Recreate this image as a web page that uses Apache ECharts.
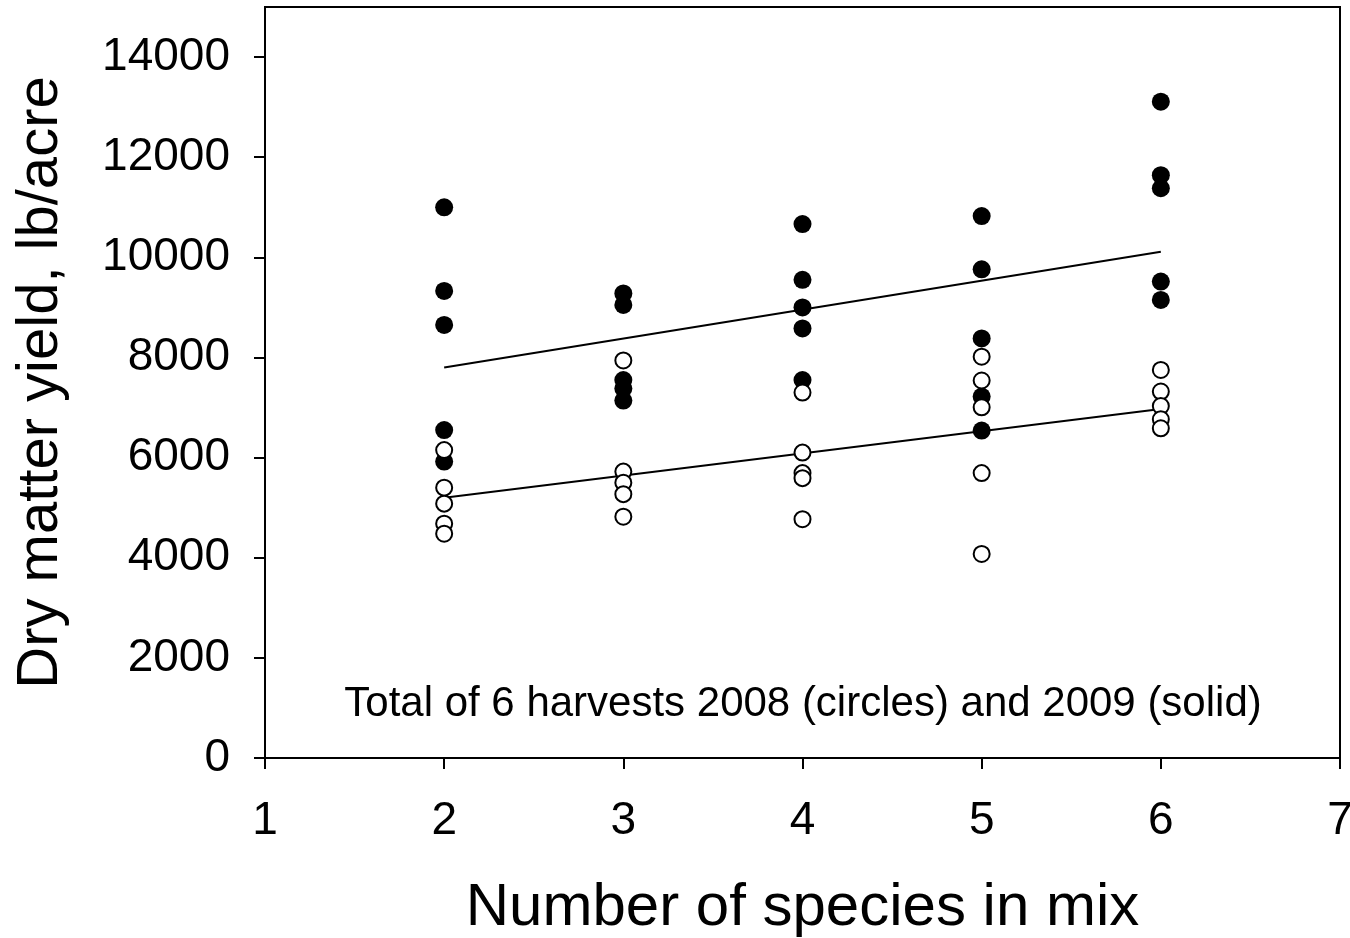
<!DOCTYPE html>
<html>
<head>
<meta charset="utf-8">
<script src="https://cdn.jsdelivr.net/npm/echarts@6/dist/echarts.min.js"></script>
<style>
  html, body { margin: 0; padding: 0; background: #fff; }
  #chart { width: 1350px; height: 938px; }
</style>
</head>
<body>
<div id="chart"></div>
<script>
// number of species per point
var species = [2, 3, 4, 5, 6];

// 2009 (solid) yields, lb/acre, five plots per species level
var solid2 = [11000, 9330, 8650, 6550, 5920];
var solid3 = [9280, 9050, 7550, 7380, 7140];
var solid4 = [10665, 9550, 9000, 8580, 7550];
var solid5 = [10825, 9760, 8380, 7220, 6540];
var solid6 = [13110, 11640, 11380, 9515, 9150];

// 2008 (circles) yields
var open2 = [6150, 5400, 5080, 4680, 4480];
var open3 = [7940, 5720, 5500, 5270, 4820];
var open4 = [7300, 6100, 5690, 5590, 4770];
var open5 = [8015, 7540, 7005, 5690, 4075];
var open6 = [7750, 7320, 7030, 6765, 6585];

// fitted lines, ends
var lineX = [2, 6];
var solidLine = [7800, 10110];
var openLine = [5200, 6970];

var yTicks = [0, 2000, 4000, 6000, 8000, 10000, 12000, 14000];

function pairs(groups) {
  var out = [];
  groups.forEach(function (g, i) {
    g.forEach(function (v) { out.push([species[i], v]); });
  });
  return out;
}
function linePairs(ys) {
  return ys.map(function (v, i) { return [lineX[i], v]; });
}

var font = 'Liberation Sans, Arial, sans-serif';
var chart = echarts.init(document.getElementById('chart'));

var option = {
  animation: false,
  grid: {
    left: 265, right: 10, top: 7, bottom: 180,
    outerBoundsMode: 'none',
    containLabel: false,
    show: true, borderColor: '#000', borderWidth: 2, backgroundColor: 'transparent'
  },
  xAxis: {
    type: 'value',
    min: 1, max: 7, interval: 1,
    name: 'Number of species in mix',
    nameLocation: 'middle',
    nameGap: 120,
    nameTextStyle: { color: '#000', fontSize: 60, fontFamily: font },
    axisLine: { show: true, onZero: false, lineStyle: { color: '#000', width: 2 } },
    axisTick: { show: true, inside: false, length: 11, lineStyle: { color: '#000', width: 2 } },
    axisLabel: { color: '#000', fontSize: 46, fontFamily: font, margin: 40 },
    splitLine: { show: false }
  },
  yAxis: {
    type: 'value',
    min: 0, max: 15000, interval: 2000,
    name: 'Dry matter yield, lb/acre',
    nameLocation: 'middle',
    nameGap: 195,
    nameTextStyle: { color: '#000', fontSize: 58, fontFamily: font },
    axisLine: { show: true, lineStyle: { color: '#000', width: 2 } },
    axisTick: { show: true, inside: false, length: 11, lineStyle: { color: '#000', width: 2 } },
    axisLabel: {
      color: '#000', fontSize: 46, fontFamily: font, margin: 35,
      showMaxLabel: false,
      formatter: function (v) { return yTicks.indexOf(v) >= 0 ? String(v) : ''; }
    },
    splitLine: { show: false }
  },
  graphic: [{
    type: 'text',
    x: 803,
    y: 704,
    style: {
      text: 'Total of 6 harvests 2008 (circles) and 2009 (solid)',
      fill: '#000',
      fontSize: 42,
      fontFamily: font,
      textAlign: 'center',
      textVerticalAlign: 'middle'
    }
  }],
  series: [
    {
      type: 'line',
      data: linePairs(solidLine),
      symbol: 'none',
      lineStyle: { color: '#000', width: 2 },
      z: 1
    },
    {
      type: 'line',
      data: linePairs(openLine),
      symbol: 'none',
      lineStyle: { color: '#000', width: 2 },
      z: 1
    },
    {
      type: 'scatter',
      data: pairs([solid2, solid3, solid4, solid5, solid6]),
      symbol: 'circle',
      symbolSize: 18,
      itemStyle: { color: '#000', opacity: 1 },
      z: 2
    },
    {
      type: 'scatter',
      data: pairs([open2, open3, open4, open5, open6]),
      symbol: 'circle',
      symbolSize: 16,
      itemStyle: { color: '#fff', borderColor: '#000', borderWidth: 2, opacity: 1 },
      z: 3
    }
  ]
};

chart.setOption(option);
window.addEventListener('resize', chart.resize);
</script>
</body>
</html>
